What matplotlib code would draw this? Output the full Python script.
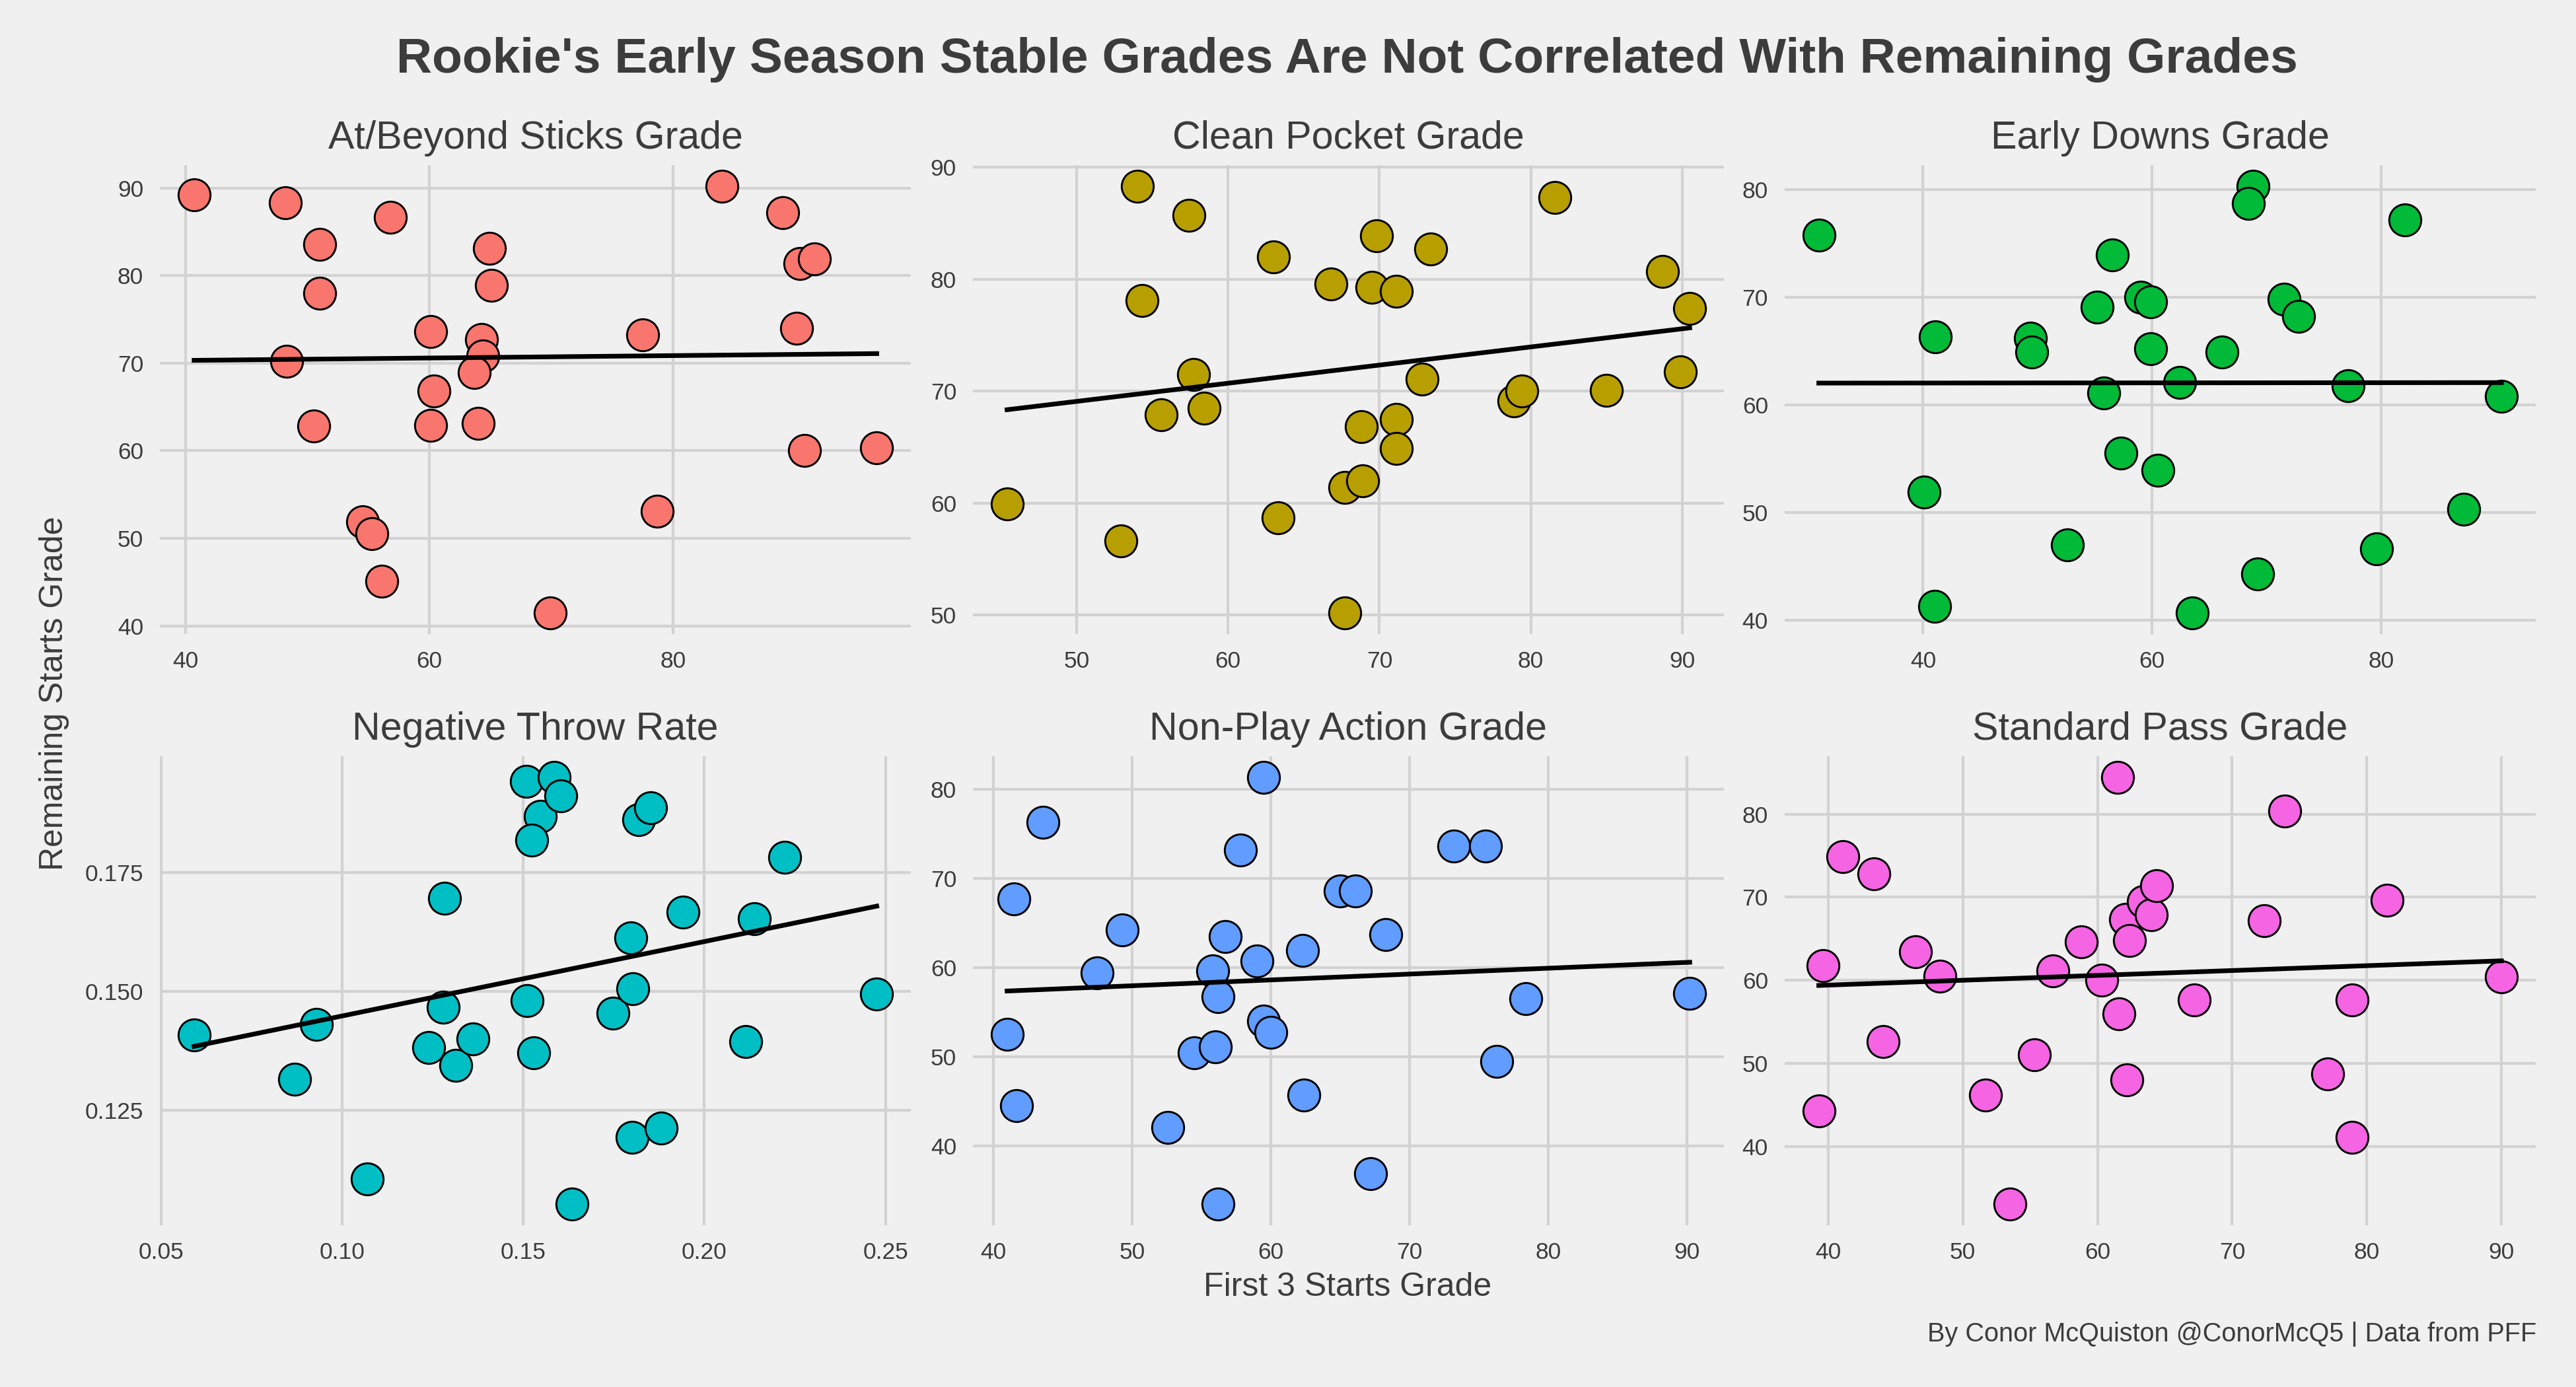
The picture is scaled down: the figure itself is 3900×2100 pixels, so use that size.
import numpy as np
import matplotlib
matplotlib.use("Agg")
import matplotlib.pyplot as plt

plt.rcParams["font.family"] = ["Liberation Sans", "DejaVu Sans"]

# first 3 starts grade (x) vs remaining starts grade (y), one pair of lists per panel
sticks_x = [40.7, 48.2, 56.8, 51.0, 51.0, 64.95, 65.1, 84.0, 89.0, 90.4, 91.6, 90.1, 77.5, 60.1, 64.3,
            64.4, 63.7, 48.3, 60.4, 50.5, 60.1, 64.0, 90.8, 96.7, 78.7, 54.5, 55.3, 56.1, 69.9]
sticks_y = [89.2, 88.3, 86.7, 83.6, 78.0, 83.1, 78.9, 90.2, 87.2, 81.4, 81.9, 74.0, 73.2, 73.6, 72.7,
            70.8, 68.9, 70.2, 66.8, 62.8, 62.9, 63.1, 60.0, 60.3, 53.1, 51.9, 50.5, 45.1, 41.5]

pocket_x = [45.4, 52.9, 54.0, 57.4, 54.3, 57.7, 55.6, 58.4, 63.0, 63.3, 66.8, 69.8, 69.5, 71.1, 73.4,
            72.8, 68.8, 71.1, 71.1, 67.7, 68.9, 67.7, 81.6, 88.7, 90.5, 89.9, 85.0, 78.9, 79.4]
pocket_y = [59.9, 56.6, 88.3, 85.7, 78.1, 71.5, 67.9, 68.5, 82.0, 58.7, 79.6, 83.9, 79.3, 78.9, 82.7,
            71.1, 66.8, 67.5, 64.9, 61.4, 62.0, 50.2, 87.3, 80.7, 77.4, 71.7, 70.1, 69.1, 70.0]

early_x = [30.9, 41.1, 40.1, 41.0, 49.4, 49.5, 55.2, 56.5, 55.8, 59.0, 59.9, 59.9, 57.3, 60.5, 52.6,
           62.4, 66.1, 63.5, 68.8, 68.4, 71.5, 72.8, 69.2, 77.1, 82.1, 79.6, 87.2, 90.5]
early_y = [75.8, 66.3, 51.9, 41.3, 66.2, 64.9, 69.1, 73.9, 61.1, 70.0, 69.6, 65.2, 55.5, 53.9, 47.0,
           62.1, 64.9, 40.7, 80.3, 78.7, 69.8, 68.2, 44.3, 61.8, 77.2, 46.6, 50.3, 60.8]

negative_x = [0.0591, 0.0869, 0.0928, 0.1070, 0.1282, 0.1279, 0.1239, 0.1313, 0.1361, 0.1508, 0.1547,
              0.1523, 0.1585, 0.1604, 0.1511, 0.1528, 0.1635, 0.1747, 0.1797, 0.1803, 0.1819, 0.1851,
              0.1800, 0.1880, 0.1941, 0.2114, 0.2138, 0.2221, 0.2476]
negative_y = [0.1409, 0.1315, 0.1430, 0.1106, 0.1695, 0.1467, 0.1382, 0.1345, 0.1400, 0.1941, 0.1867,
              0.1817, 0.1949, 0.1911, 0.1480, 0.1371, 0.1054, 0.1454, 0.1613, 0.1505, 0.1860, 0.1885,
              0.1194, 0.1213, 0.1667, 0.1395, 0.1652, 0.1781, 0.1495]

nonpa_x = [41.0, 41.5, 41.7, 43.6, 47.5, 49.3, 52.6, 54.5, 56.0, 55.8, 56.2, 56.7, 57.8, 56.2, 59.0,
           59.5, 59.5, 60.0, 62.3, 62.4, 65.0, 66.1, 68.3, 67.2, 73.2, 75.5, 76.3, 78.4, 90.2]
nonpa_y = [52.5, 67.7, 44.5, 76.3, 59.4, 64.2, 42.1, 50.4, 51.1, 59.6, 56.7, 63.5, 73.2, 33.5, 60.7,
           81.3, 54.0, 52.7, 61.9, 45.7, 68.6, 68.6, 63.7, 36.9, 73.6, 73.6, 49.5, 56.5, 57.1]

standard_x = [39.3, 39.6, 41.1, 43.4, 44.1, 46.5, 48.3, 51.7, 53.5, 55.3, 56.7, 58.8, 60.3, 61.5, 61.6,
              62.2, 62.1, 62.4, 63.4, 64.0, 64.4, 67.2, 72.4, 73.9, 77.1, 78.9, 78.9, 81.5, 90.0]
standard_y = [44.3, 61.8, 74.9, 72.8, 52.6, 63.4, 60.5, 46.2, 33.1, 51.0, 61.1, 64.6, 60.0, 84.4, 56.0,
              48.0, 67.3, 64.8, 69.5, 67.9, 71.4, 57.6, 67.2, 80.4, 48.7, 57.6, 41.1, 69.6, 60.4]

titles = ["At/Beyond Sticks Grade", "Clean Pocket Grade", "Early Downs Grade",
          "Negative Throw Rate", "Non-Play Action Grade", "Standard Pass Grade"]
colors = ["#F8766D", "#B79F00", "#00BA38", "#00BFC4", "#619CFF", "#F564E3"]
xs = [sticks_x, pocket_x, early_x, negative_x, nonpa_x, standard_x]
ys = [sticks_y, pocket_y, early_y, negative_y, nonpa_y, standard_y]
xticks = [[40, 60, 80], [50, 60, 70, 80, 90], [40, 60, 80],
          [0.05, 0.10, 0.15, 0.20, 0.25], [40, 50, 60, 70, 80, 90], [40, 50, 60, 70, 80, 90]]
yticks = [[40, 50, 60, 70, 80, 90], [50, 60, 70, 80, 90], [40, 50, 60, 70, 80],
          [0.125, 0.150, 0.175], [40, 50, 60, 70, 80], [40, 50, 60, 70, 80]]

bg = "#F0F0F0"
text_col = "#3C3C3C"

fig = plt.figure(figsize=(13, 7), dpi=300, facecolor=bg)

lefts = [0.0621, 0.3777, 0.6928]
bottoms = [0.5429, 0.1167]
w, h = 0.2915, 0.3381

for i in range(6):
    ax = fig.add_axes([lefts[i % 3], bottoms[i // 3], w, h])
    ax.set_facecolor(bg)
    x = np.array(xs[i])
    y = np.array(ys[i])

    ax.scatter(x, y, s=135, c=colors[i], edgecolors="black", linewidths=0.7, zorder=3)

    slope, intercept = np.polyfit(x, y, 1)
    xl = np.array([x.min(), x.max()])
    ax.plot(xl, intercept + slope * xl, color="black", lw=1.7, zorder=4)

    ax.margins(0.05)
    ax.set_xticks(xticks[i])
    ax.set_yticks(yticks[i])
    if i == 3:
        ax.set_xticklabels([f"{t:.2f}" for t in xticks[i]])
        ax.set_yticklabels([f"{t:.3f}" for t in yticks[i]])
    ax.grid(True, color="#D2D2D2", lw=1.0, zorder=0)
    ax.tick_params(length=0, labelsize=8.5, labelcolor=text_col, pad=6)
    for sp in ax.spines.values():
        sp.set_visible(False)
    ax.set_title(titles[i], fontsize=14.2, color=text_col, pad=6)

fig.text(0.523, 0.957, "Rookie's Early Season Stable Grades Are Not Correlated With Remaining Grades",
         ha="center", va="center", fontsize=18, fontweight="bold", color=text_col)
fig.text(0.523, 0.072, "First 3 Starts Grade", ha="center", va="center", fontsize=12, color=text_col)
fig.text(0.021, 0.50, "Remaining Starts Grade", ha="center", va="center", rotation=90,
         fontsize=12, color=text_col)
fig.text(0.9846, 0.038, "By Conor McQuiston @ConorMcQ5 | Data from PFF", ha="right", va="center",
         fontsize=9.5, color=text_col)

fig.savefig("out.png", dpi=300, facecolor=bg)
plt.close()
